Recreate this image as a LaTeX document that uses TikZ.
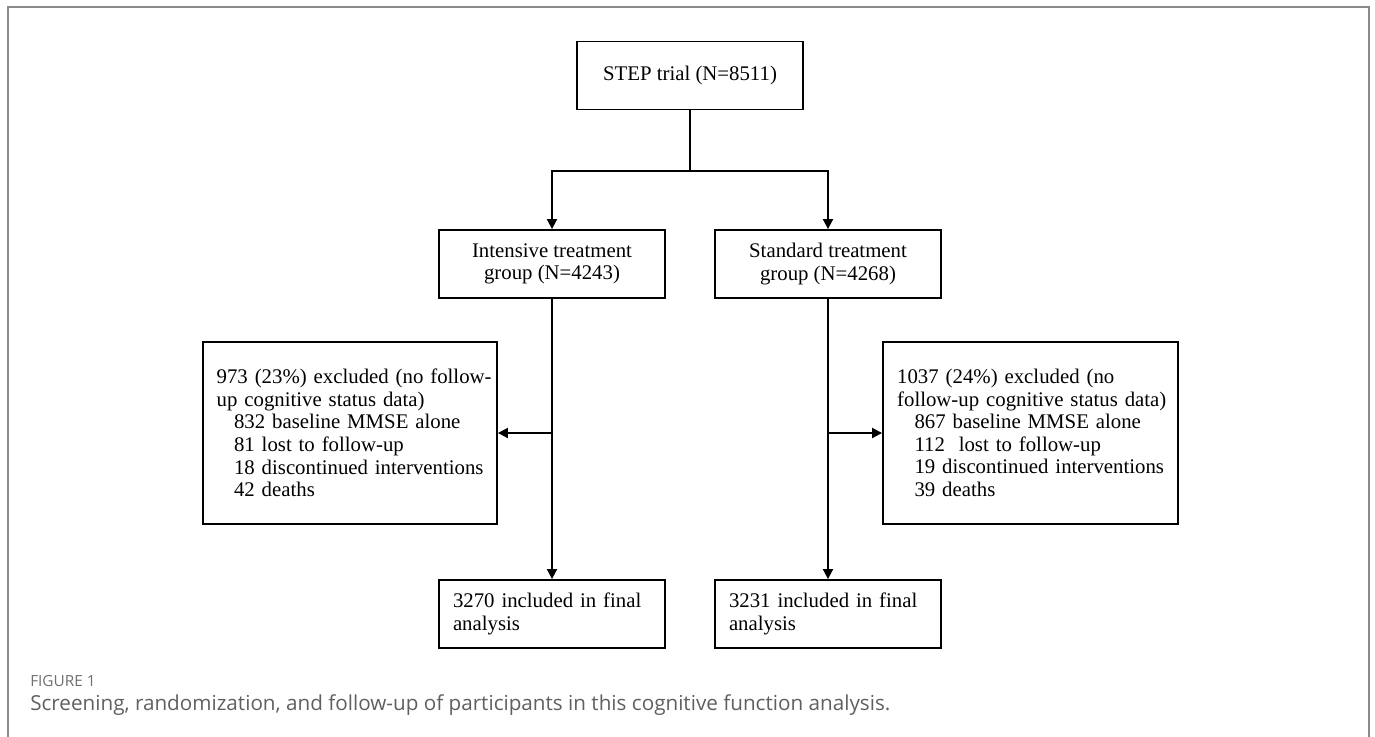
\documentclass[tikz,border=0pt]{standalone}
\usepackage{fontspec}
\setmainfont{Liberation Serif}
\newfontfamily\capfont{Open Sans}
\usetikzlibrary{arrows.meta}
\definecolor{framegray}{HTML}{8A8A8A}
\definecolor{capgray}{HTML}{606060}
\definecolor{figgray}{HTML}{707070}
\newcommand{\xline}[1]{\mbox{#1}}
\newcommand{\xind}{\hspace*{13pt}}
\begin{document}
\begin{tikzpicture}[x=0.75pt,y=-0.75pt,
  box/.style={draw=black, line width=1.4pt, inner sep=0pt,
    font=\fontsize{15.6pt}{16.9pt}\selectfont},
  cbox/.style={box, minimum width=169.5pt, minimum height=51pt, align=center},
  lbox/.style={box, minimum height=51pt, text width=148.5pt, inner xsep=10.5pt, align=left},
  xbox/.style={box, minimum height=136.5pt, text width=200pt, inner xsep=10.25pt, align=left},
  link/.style={line width=1.4pt, draw=black},
  arr/.style={link, -{Triangle[length=7.5pt,width=7.5pt]}}]
\useasboundingbox (0,0) rectangle (1375,736);
\fill[white] (0,0) rectangle (1375,736);
\draw[framegray, line width=1.5pt] (8,750) -- (8,7) -- (1369,7) -- (1369,750);

\node[cbox] (step) at (690,75.5) {STEP trial (N=8511)};
\node[cbox] (int) at (552,264) {Intensive treatment\\group (N=4243)};
\node[cbox] (std) at (828,264) {Standard treatment\\group (N=4268)};
\node[xbox, minimum width=220.5pt] (exL) at (350,433) {\xline{973 (23\%) excluded (no follow-}\\\xline{up cognitive status data)}\\
\xline{\xind 832 baseline MMSE alone}\\
\xline{\xind 81 lost to follow-up}\\
\xline{\xind 18 discontinued interventions}\\
\xline{\xind 42 deaths}};
\node[xbox, minimum width=221.25pt] (exR) at (1030.5,433) {\xline{1037 (24\%) excluded (no}\\\xline{follow-up cognitive status data)}\\
\xline{\xind 867 baseline MMSE alone}\\
\xline{\xind 112\ \ lost to follow-up}\\
\xline{\xind 19 discontinued interventions}\\
\xline{\xind 39 deaths}};
\node[lbox] (finL) at (552,614) {3270 included in final\\analysis};
\node[lbox] (finR) at (828,614) {3231 included in final\\analysis};

\coordinate (split) at (690,171);
\draw[link] (step) -- (split);
\draw[arr] (split) -| (int.north);
\draw[arr] (split) -| (std.north);
\draw[arr] (int) -- (finL);
\draw[arr] (std) -- (finR);
\coordinate (jl) at (exL.east -| int.south);
\coordinate (jr) at (exR.west -| std.south);
\draw[arr] (jl) -- (exL.east);
\draw[arr] (jr) -- (exR.west);

\node[anchor=west, inner sep=0pt, text=figgray, font=\capfont\fontsize{11.5pt}{13pt}\selectfont] (figlbl) at (30,681) {FIGURE 1};
\node[anchor=west, inner sep=0pt, text=capgray, font=\capfont\fontsize{15.5pt}{18pt}\selectfont] (cap) at (30,705) {Screening, randomization, and follow-up of participants in this cognitive function analysis.};
\end{tikzpicture}
\end{document}
